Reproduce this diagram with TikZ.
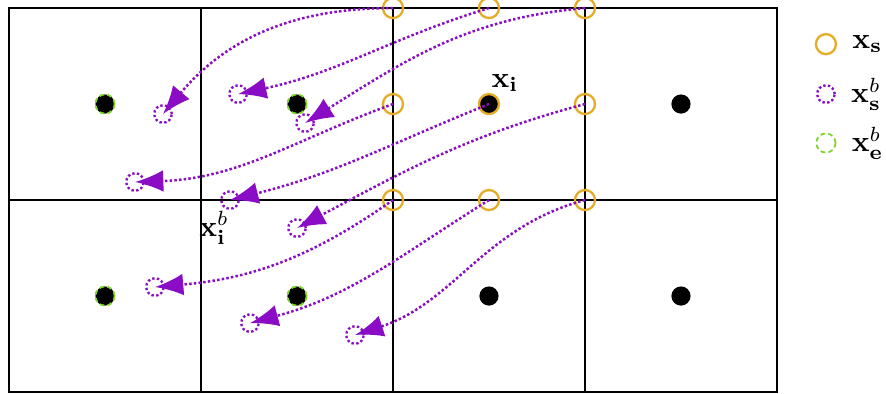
\documentclass[tikz,border=0pt]{standalone}
\usepackage{tikz}
\usetikzlibrary{arrows.meta,positioning}
\definecolor{SampleGold}{HTML}{E4AE2A}
\definecolor{WarpPurple}{HTML}{8A0CC4}
\definecolor{EdgeGreen}{HTML}{7FD52B}

\tikzset{
  cellpt/.style={circle, fill=black, inner sep=0pt, minimum size=2.3mm},
  edgept/.style={cellpt, draw=EdgeGreen, semithick, dash pattern=on 1.6pt off 1.1pt},
  samplept/.style={circle, draw=SampleGold, thick, inner sep=0pt, minimum size=2.4mm},
  warpedpt/.style={circle, draw=WarpPurple, line width=0.8pt, dash pattern=on 0.8pt off 0.8pt, inner sep=0pt, minimum size=2.1mm},
  warparrow/.style={WarpPurple, line width=0.85pt, dash pattern=on 0.85pt off 0.75pt, -{Latex[length=3.4mm, width=2.6mm]}}
}

\begin{document}
\begin{tikzpicture}[x=2.3cm, y=2.3cm, every node/.style={font=\normalsize}]
  \useasboundingbox (-0.047,-0.010) rectangle (4.568,2.042);
  % cells
  \draw[thick] (0,0) rectangle (4,2);
  \draw[thick] (0,1) -- (4,1);
  \draw[thick] (1,0) -- (1,2);
  \draw[thick] (2,0) -- (2,2);
  \draw[thick] (3,0) -- (3,2);
  % cell centres
  \node[edgept] (c1) at (0.5,1.5) {};
  \node[edgept] (c2) at (1.5,1.5) {};
  \node[cellpt] (c3) at (2.5,1.5) {};
  \node[cellpt] (c4) at (3.5,1.5) {};
  \node[edgept] (c5) at (0.5,0.5) {};
  \node[edgept] (c6) at (1.5,0.5) {};
  \node[cellpt] (c7) at (2.5,0.5) {};
  \node[cellpt] (c8) at (3.5,0.5) {};
  % sampling points around x_i
  \node[samplept] (s11) at (2,2) {};
  \node[samplept] (s12) at (2.5,2) {};
  \node[samplept] (s13) at (3,2) {};
  \node[samplept] (s21) at (2,1.5) {};
  \node[samplept] (s22) at (2.5,1.5) {};
  \node[samplept] (s23) at (3,1.5) {};
  \node[samplept] (s31) at (2,1) {};
  \node[samplept] (s32) at (2.5,1) {};
  \node[samplept] (s33) at (3,1) {};
  % displaced points
  \node[warpedpt] (w11) at (0.802,1.448) {};
  \node[warpedpt] (w12) at (1.193,1.552) {};
  \node[warpedpt] (w13) at (1.542,1.401) {};
  \node[warpedpt] (w21) at (0.656,1.094) {};
  \node[warpedpt] (w22) at (1.151,1.000) {};
  \node[warpedpt] (w23) at (1.500,0.854) {};
  \node[warpedpt] (w31) at (0.760,0.547) {};
  \node[warpedpt] (w32) at (1.255,0.359) {};
  \node[warpedpt] (w33) at (1.802,0.297) {};
  % offsets
  \draw[warparrow] (s11.center) to[out=180, in=50] (w11.center);
  \draw[warparrow] (s12.center) to[out=197, in=12] (w12.center);
  \draw[warparrow] (s13.center) to[out=185, in=32] (w13.center);
  \draw[warparrow] (s21.center) to[out=200, in=2] (w21.center);
  \draw[warparrow] (s22.center) to[out=202, in=14] (w22.center);
  \draw[warparrow] (s23.center) to[out=195, in=28] (w23.center);
  \draw[warparrow] (s31.center) to[out=215, in=5] (w31.center);
  \draw[warparrow] (s32.center) to[out=212, in=15] (w32.center);
  \draw[warparrow] (s33.center) to[out=195, in=18] (w33.center);
  % labels
  \node (xi) at (2.583,1.609) {$\mathbf{x_i}$};
  \node (xib) at (1.068,0.854) {$\mathbf{x}_\mathbf{i}^b$};
  % legend
  \node[samplept] (legS) at (4.255,1.812) {};
  \node[warpedpt] (legW) at (4.255,1.552) {};
  \node[circle, draw=EdgeGreen, semithick, dash pattern=on 1.6pt off 1.1pt, inner sep=0pt, minimum size=2.3mm] (legE) at (4.255,1.297) {};
  \node[right=0.6mm of legS] (legStxt) {$\mathbf{x_s}$};
  \node[right=0.6mm of legW] (legWtxt) {$\mathbf{x}_\mathbf{s}^b$};
  \node[right=0.6mm of legE] (legEtxt) {$\mathbf{x}_\mathbf{e}^b$};
\end{tikzpicture}
\end{document}
